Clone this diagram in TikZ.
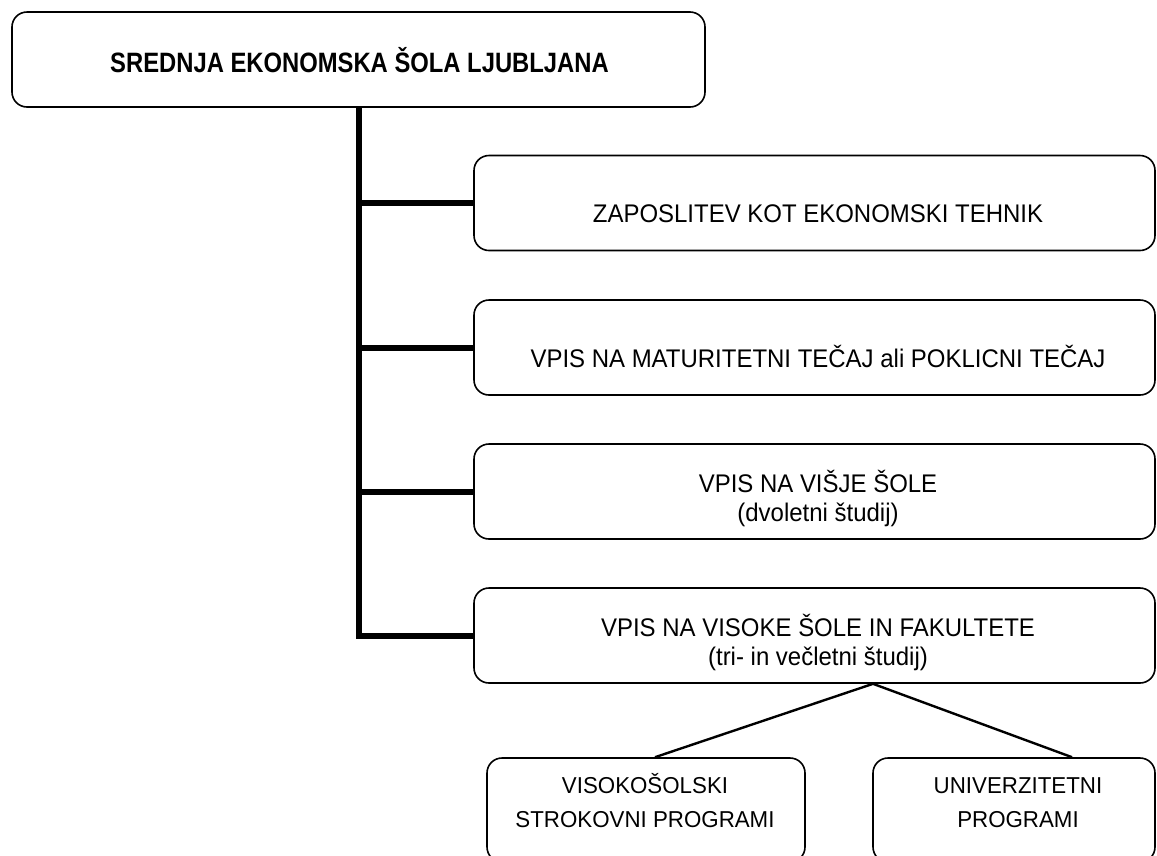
\documentclass[tikz,border=0pt]{standalone}
\usepackage{fontspec}
\setmainfont{Liberation Sans}
\newfontfamily\bodyfont{Liberation Sans}[FakeStretch=0.94]
\newfontfamily\smallfont{Liberation Sans}[FakeStretch=0.97]
\newfontfamily\headfont{Liberation Sans}[FakeStretch=0.85]
\begin{document}
\begin{tikzpicture}[x=1pt,y=-1pt,
  box/.style={draw=black,line width=1.6pt,rounded corners=15pt,fill=white,inner sep=0pt},
  wide/.style={box,minimum width=681pt,minimum height=95pt},
  txt/.style={align=center,inner sep=0pt,anchor=base,font=\bodyfont\fontsize{25.5}{29}\selectfont},
  smalltext/.style={align=center,inner sep=0pt,anchor=base,font=\smallfont\fontsize{23}{34}\selectfont},
  trunk/.style={line width=6pt},
  branch/.style={line width=2.4pt}]
\useasboundingbox (0,0) rectangle (1157,855);
\clip (0,0) rectangle (1157,855);
\fill[white] (0,0) rectangle (1157,855);

\node[box,minimum width=693pt,minimum height=95pt] (top) at (358.5,59.5) {};
\node[inner sep=0pt,anchor=base,font=\headfont\bfseries\fontsize{28}{30}\selectfont] (topt) at (359.5,72)
  {SREDNJA EKONOMSKA ŠOLA LJUBLJANA};

\node[wide] (b1) at (814.5,203) {};
\node[txt] (b1t) at (818,222) {ZAPOSLITEV KOT EKONOMSKI TEHNIK};
\node[wide] (b2) at (814.5,347.5) {};
\node[txt] (b2t) at (818,367) {VPIS NA MATURITETNI TEČAJ ali POKLICNI TEČAJ};
\node[wide] (b3) at (814.5,491.5) {};
\node[txt] (b3t) at (818,521) {VPIS NA VIŠJE ŠOLE\\(dvoletni študij)};
\node[wide] (b4) at (814.5,635.5) {};
\node[txt] (b4t) at (818,665) {VPIS NA VISOKE ŠOLE IN FAKULTETE\\(tri- in večletni študij)};

\node[box,minimum width=318pt,minimum height=104pt] (l) at (646,810) {};
\node[smalltext] (lt) at (645,827) {VISOKOŠOLSKI\\STROKOVNI PROGRAMI};
\node[box,minimum width=282pt,minimum height=104pt] (r) at (1014,810) {};
\node[smalltext] (rt) at (1018,827) {UNIVERZITETNI\\PROGRAMI};

\draw[trunk] (top.south) -- (top.south |- b4.west) -- (b4.west);
\draw[trunk] (top.south |- b1.west) -- (b1.west);
\draw[trunk] (top.south |- b2.west) -- (b2.west);
\draw[trunk] (top.south |- b3.west) -- (b3.west);

\coordinate (apex) at ([xshift=58.5pt]b4.south);
\draw[branch] (apex) -- ([xshift=9pt]l.north);
\draw[branch] (apex) -- ([xshift=58pt]r.north);
\end{tikzpicture}
\end{document}
